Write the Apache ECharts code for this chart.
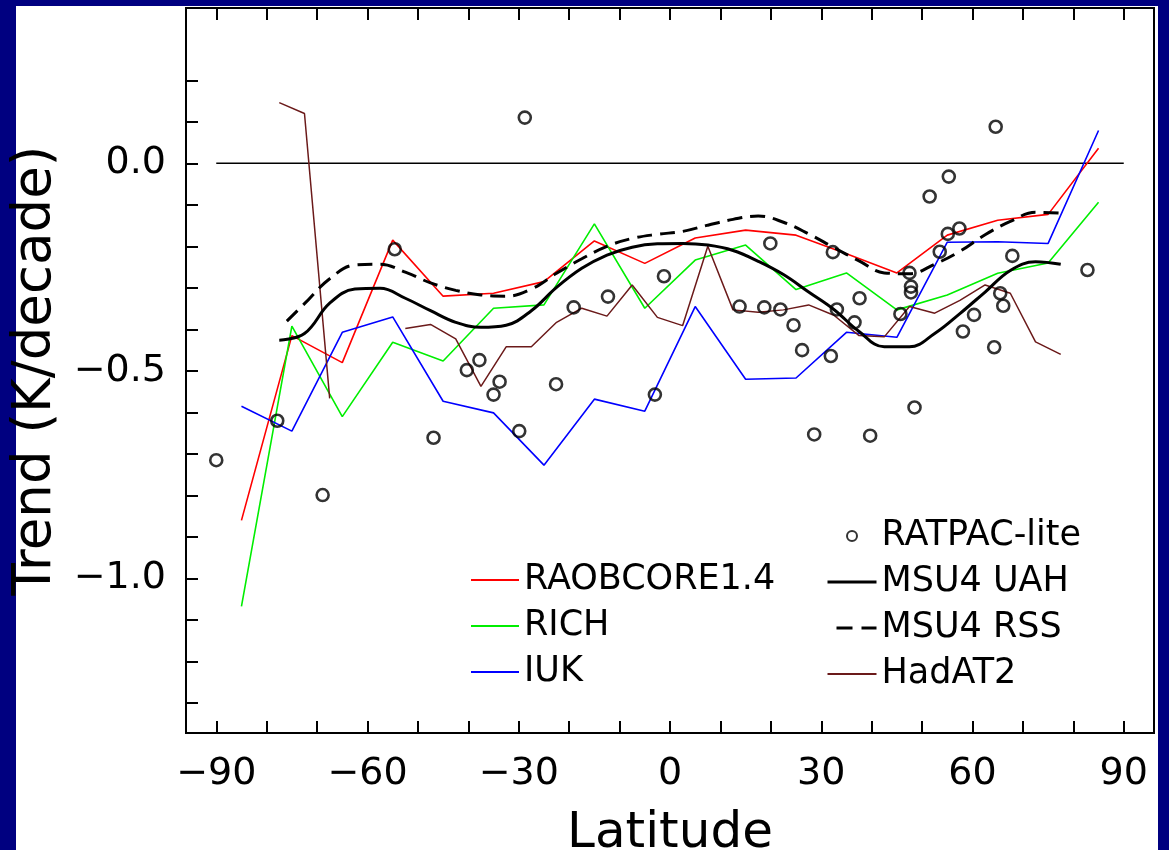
<!DOCTYPE html>
<html>
<head>
<meta charset="utf-8">
<title>Trend vs Latitude</title>
<script src="https://cdn.jsdelivr.net/npm/echarts@6/dist/echarts.min.js"></script>
<style>
  html, body { margin: 0; padding: 0; background: #000080; }
  #chart { width: 1169px; height: 850px; }
</style>
</head>
<body>
<div id="chart"></div>
<script>
// 数据：纬度（度）与趋势（K/decade）
const lat10 = [-85, -75, -65, -55, -45, -35, -25, -15, -5, 5, 15, 25, 35, 45, 55, 65, 75, 85];
const raobcore = [-0.86, -0.415, -0.48, -0.185, -0.32, -0.313, -0.285, -0.187, -0.241, -0.18, -0.161, -0.173, -0.218, -0.264, -0.173, -0.137, -0.123, 0.036];
const rich = [-1.067, -0.392, -0.61, -0.431, -0.476, -0.349, -0.341, -0.146, -0.349, -0.233, -0.197, -0.304, -0.264, -0.353, -0.317, -0.265, -0.24, -0.094];
const iuk = [-0.585, -0.645, -0.407, -0.37, -0.573, -0.601, -0.727, -0.568, -0.597, -0.345, -0.52, -0.517, -0.407, -0.419, -0.19, -0.189, -0.193, 0.079];

const lat5 = [-77.5, -72.5, -67.5, -62.5, -57.5, -52.5, -47.5, -42.5, -37.5, -32.5, -27.5, -22.5, -17.5, -12.5, -7.5, -2.5,
              2.5, 7.5, 12.5, 17.5, 22.5, 27.5, 32.5, 37.5, 42.5, 47.5, 52.5, 57.5, 62.5, 67.5, 72.5, 77.5];
const hadat2 = [0.146, 0.12, -0.566, null, null, -0.398, -0.388, -0.423, -0.537, -0.442, -0.442, -0.383, -0.349, -0.368, -0.293, -0.371,
                -0.391, -0.2, -0.353, -0.359, -0.353, -0.341, -0.366, -0.415, -0.418, -0.345, -0.361, -0.33, -0.293, -0.313, -0.43, -0.46];
const msuUah = [-0.426, -0.41, -0.337, -0.303, -0.301, -0.325, -0.355, -0.383, -0.395, -0.39, -0.355, -0.299, -0.253, -0.221, -0.202, -0.194,
                -0.193, -0.197, -0.21, -0.236, -0.268, -0.31, -0.352, -0.405, -0.442, -0.442, -0.41, -0.362, -0.31, -0.258, -0.237, -0.243];
const rssLat = [-76, -72.5, -67.5, -62.5, -57.5, -52.5, -47.5, -42.5, -37.5, -32.5, -27.5, -22.5, -17.5, -12.5, -7.5, -2.5,
                2.5, 7.5, 12.5, 17.5, 22.5, 27.5, 32.5, 37.5, 42.5, 47.5, 52.5, 57.5, 62.5, 67.5, 72.5, 77.5];
const msuRss = [-0.38, -0.338, -0.278, -0.245, -0.243, -0.262, -0.288, -0.306, -0.317, -0.32, -0.303, -0.265, -0.23, -0.2, -0.181, -0.171,
                -0.164, -0.149, -0.135, -0.127, -0.142, -0.17, -0.203, -0.235, -0.264, -0.266, -0.243, -0.212, -0.172, -0.14, -0.118, -0.12];

// RATPAC-lite 站点
const ratpacLat = [-90, -77.9, -68.9, -54.6, -46.9, -40.3, -37.8, -33.8, -35, -29.9, -28.8, -19.1, -12.3, -1.2, -22.6, -3,
                   13.8, 18.7, 21.9, 19.9, 24.5, 26.2, 31.9, 32.3, 33.1, 36.6, 37.6, 28.6, 39.7, 45.7, 48.5, 47.5,
                   47.8, 47.8, 51.5, 55.3, 64.6, 53.5, 55.1, 57.4, 67.9, 82.8, 65.5, 66.1, 60.3, 58.1, 64.3];
const ratpacVal = [-0.715, -0.62, -0.799, -0.207, -0.661, -0.498, -0.474, -0.526, -0.557, -0.645, 0.11, -0.347, -0.321, -0.272, -0.532, -0.557,
                   -0.345, -0.347, -0.352, -0.193, -0.39, -0.45, -0.464, -0.214, -0.352, -0.383, -0.325, -0.653, -0.656, -0.363, -0.588, -0.264,
                   -0.297, -0.311, -0.08, -0.032, 0.088, -0.213, -0.17, -0.157, -0.223, -0.257, -0.313, -0.343, -0.365, -0.405, -0.443];

// 刻度
const xTicks = [-90, -80, -70, -60, -50, -40, -30, -20, -10, 0, 10, 20, 30, 40, 50, 60, 70, 80, 90];
const xLabels = [-90, -60, -30, 0, 30, 60, 90];
const yTicks = [-1.3, -1.2, -1.1, -1.0, -0.9, -0.8, -0.7, -0.6, -0.5, -0.4, -0.3, -0.2, -0.1, 0.0, 0.1, 0.2];
const yLabels = [-1.0, -0.5, 0.0];

const FONT = 'DejaVu Sans';
const pair = (xs, ys) => xs.map((x, i) => [x, ys[i]]);
const minus = s => s.replace('-', '\u2212');

const chart = echarts.init(document.getElementById('chart'), null, {renderer: 'canvas'});

const tickStyle = {show: true, inside: true, length: 12, lineStyle: {color: '#000', width: 2}};
const noLine = {show: false, onZero: false};
// 图例里线条不要中间的圆点
const hideDot = {color: 'rgba(0,0,0,0)', borderWidth: 0};
const legendText = {fontFamily: FONT, fontSize: 35, lineHeight: 46, color: '#000'};

const option = {
    animation: false,
    backgroundColor: 'transparent',
    graphic: [{
        type: 'rect', z: -10, silent: true,
        shape: {x: 16, y: 6, width: 1142, height: 844},
        style: {fill: '#fff'}
    }],
    grid: {
        left: 186, right: 15, top: 8, bottom: 117,
        outerBoundsMode: 'none', containLabel: false,
        show: true, borderColor: '#000', borderWidth: 2, backgroundColor: 'transparent'
    },
    xAxis: [
        {
            type: 'value', min: -96, max: 96, position: 'bottom',
            name: 'Latitude', nameLocation: 'middle', nameGap: 76,
            nameTextStyle: {fontFamily: FONT, fontSize: 50, color: '#000'},
            axisLine: noLine,
            splitLine: {show: false},
            axisTick: Object.assign({customValues: xTicks}, tickStyle),
            axisLabel: {
                customValues: xLabels, margin: 22, color: '#000',
                fontFamily: FONT, fontSize: 38,
                formatter: v => minus(String(Math.round(v)))
            }
        },
        {
            type: 'value', min: -96, max: 96, position: 'top',
            axisLine: noLine, splitLine: {show: false},
            axisTick: Object.assign({customValues: xTicks}, tickStyle),
            axisLabel: {show: false}
        }
    ],
    yAxis: {
        type: 'value', min: -1.372, max: 0.374,
        name: 'Trend (K/decade)', nameLocation: 'middle', nameRotate: 90, nameGap: 112,
        nameTextStyle: {fontFamily: FONT, fontSize: 53, color: '#000'},
        axisLine: noLine,
        splitLine: {show: false},
        axisTick: Object.assign({customValues: yTicks}, tickStyle),
        axisLabel: {
            customValues: yLabels, margin: 20, color: '#000',
            fontFamily: FONT, fontSize: 38,
            formatter: v => minus(v.toFixed(1))
        }
    },
    legend: [
        {
            data: ['RAOBCORE1.4', 'RICH', 'IUK'],
            orient: 'vertical', left: 470, top: 557, padding: 0,
            itemWidth: 48, itemHeight: 10, itemGap: 0, selectedMode: false,
            itemStyle: hideDot,
            textStyle: legendText
        },
        {
            data: [
                {name: 'RATPAC-lite', icon: 'circle', itemStyle: {color: 'rgba(0,0,0,0)', borderColor: '#000', borderWidth: 2}},
                {name: 'MSU4 UAH', lineStyle: {width: 3}},
                {name: 'MSU4 RSS', lineStyle: {width: 3, type: [16, 9], dashOffset: 16}},
                'HadAT2'
            ],
            orient: 'vertical', left: 826, top: 513, padding: 0,
            itemWidth: 49, itemHeight: 10, itemGap: 0, selectedMode: false,
            itemStyle: hideDot,
            textStyle: legendText
        }
    ],
    series: [
        // 零线
        {
            name: 'zero', type: 'line', data: [[-90, 0], [90, 0]],
            symbol: 'none', silent: true, z: 1,
            lineStyle: {color: '#000', width: 1.5}
        },
        {
            name: 'RAOBCORE1.4', type: 'line', data: pair(lat10, raobcore),
            symbol: 'none', color: '#ff0000', lineStyle: {color: '#ff0000', width: 1.6}
        },
        {
            name: 'RICH', type: 'line', data: pair(lat10, rich),
            symbol: 'none', color: '#00ee00', lineStyle: {color: '#00ee00', width: 1.6}
        },
        {
            name: 'IUK', type: 'line', data: pair(lat10, iuk),
            symbol: 'none', color: '#0000ff', lineStyle: {color: '#0000ff', width: 1.6}
        },
        {
            name: 'HadAT2', type: 'line', data: pair(lat5, hadat2),
            symbol: 'none', connectNulls: false, color: '#6b1a1a', lineStyle: {color: '#6b1a1a', width: 1.5}
        },
        {
            name: 'MSU4 RSS', type: 'line', data: pair(rssLat, msuRss),
            symbol: 'none', smooth: 0.4, color: '#000',
            lineStyle: {color: '#000', width: 3, type: [15, 8]}
        },
        {
            name: 'MSU4 UAH', type: 'line', data: pair(lat5, msuUah),
            symbol: 'none', smooth: 0.4, color: '#000',
            lineStyle: {color: '#000', width: 3}
        },
        {
            name: 'RATPAC-lite', type: 'scatter', data: pair(ratpacLat, ratpacVal),
            symbol: 'circle', symbolSize: 12, z: 5,
            itemStyle: {color: 'rgba(0,0,0,0)', borderColor: '#000', borderWidth: 2.6}
        }
    ]
};

chart.setOption(option);
window.addEventListener('resize', () => chart.resize());
</script>
</body>
</html>
